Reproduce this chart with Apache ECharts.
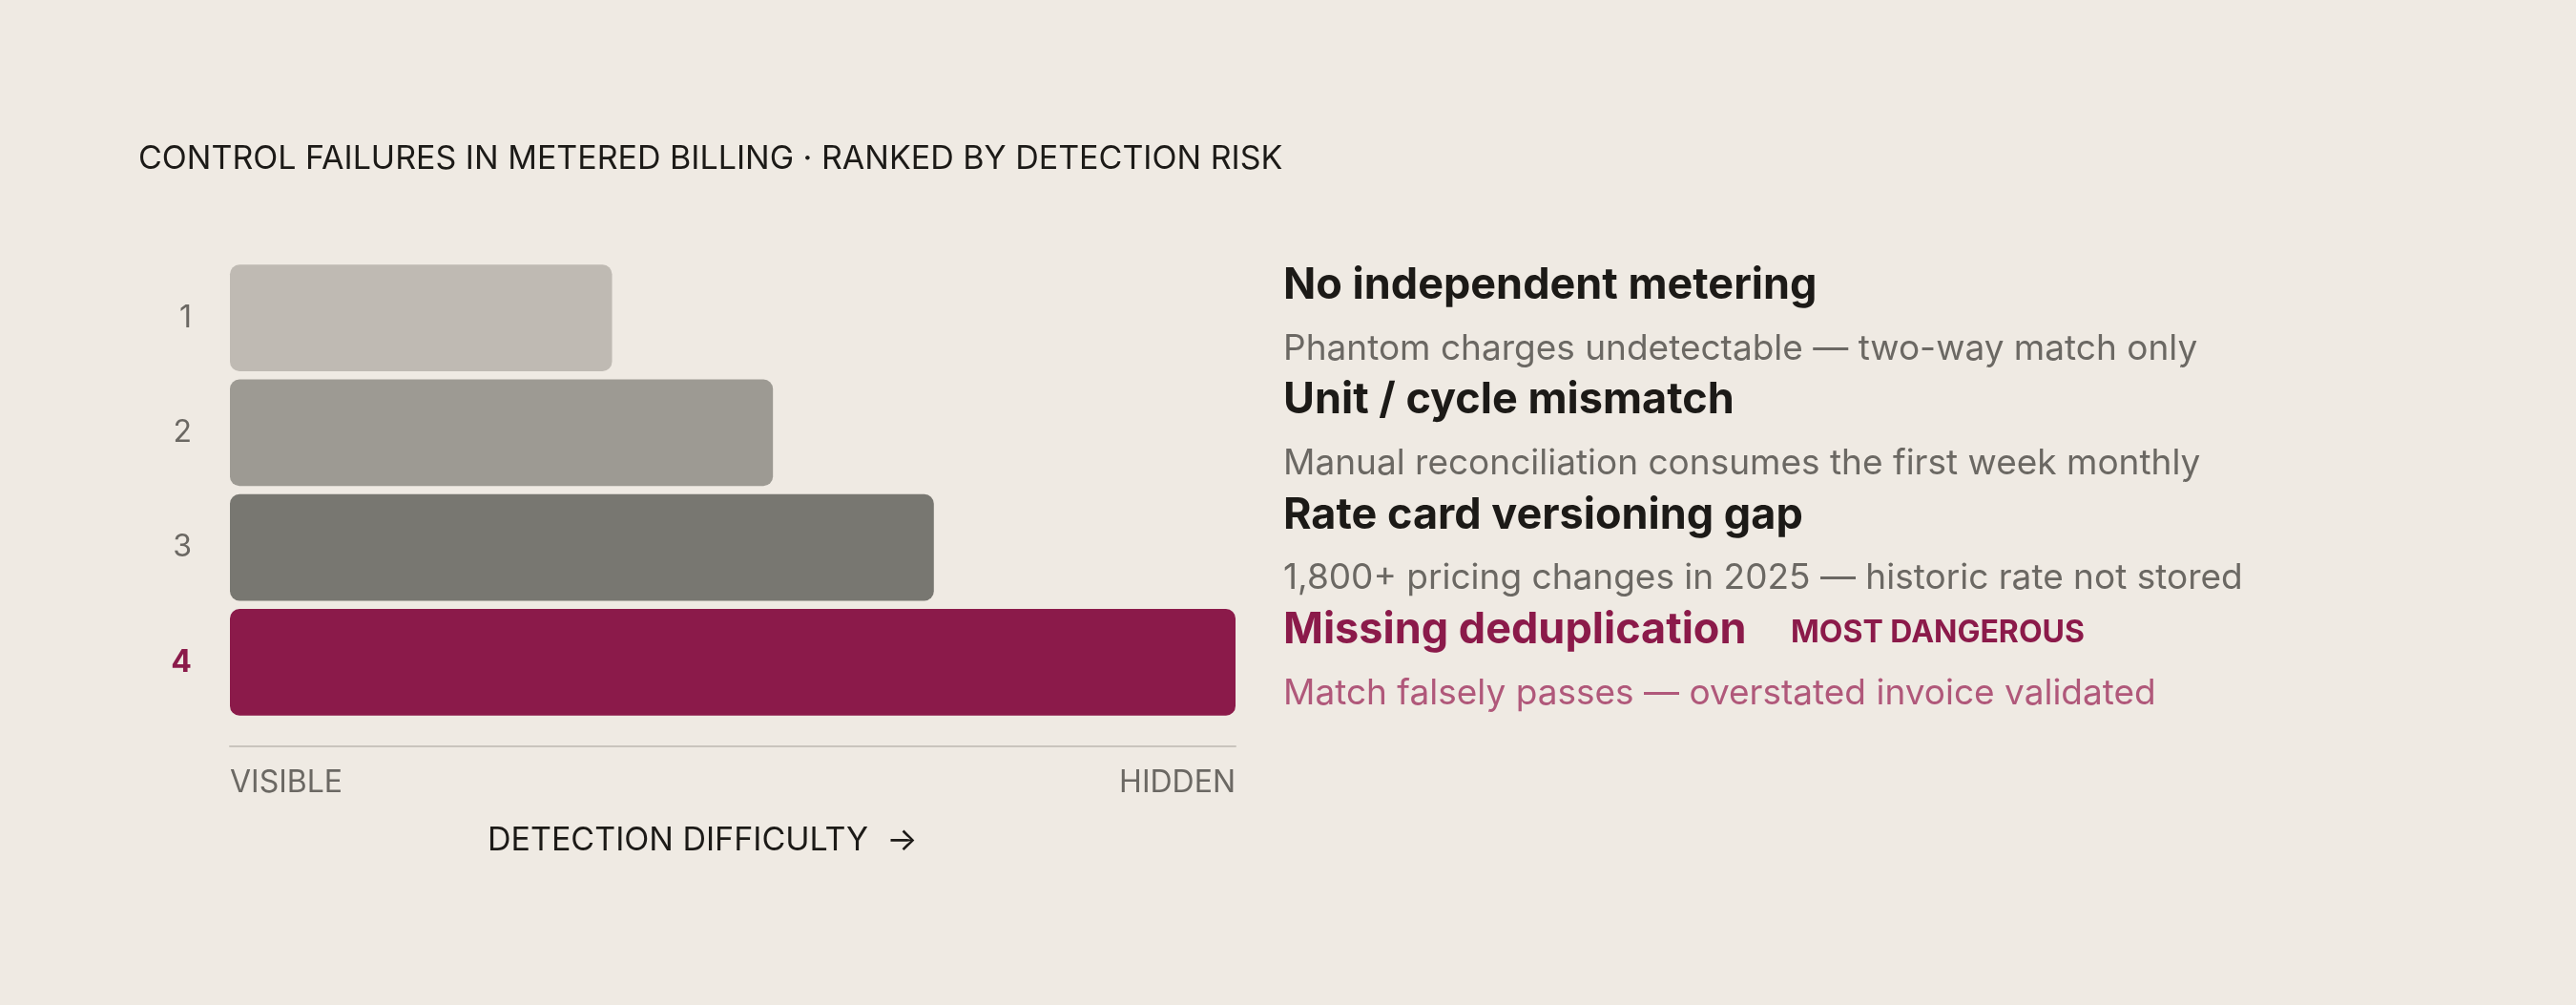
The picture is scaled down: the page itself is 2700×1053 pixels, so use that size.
<!DOCTYPE html>
<html><head><meta charset="utf-8">
<script src="https://cdn.jsdelivr.net/npm/echarts@6/dist/echarts.min.js"></script>
<style>html,body{margin:0;background:#efeae3}#c{width:2700px;height:1053px}</style>
</head><body><div id="c"></div>
<script>
var ranks = ['1', '2', '3', '4'];
var difficulty = [38, 54, 70, 100];
var titles = ['No independent metering', 'Unit / cycle mismatch', 'Rate card versioning gap', 'Missing deduplication'];
var notes = ['Phantom charges undetectable — two-way match only',
    'Manual reconciliation consumes the first week monthly',
    '1,800+ pricing changes in 2025 — historic rate not stored',
    'Match falsely passes — overstated invoice validated'];
var colors = ['#bfbab3', '#9d9a93', '#787771', '#8b1a4a'];

var font = 'Inter, "Noto Sans", sans-serif';
var chart = echarts.init(document.getElementById('c'));
chart.setOption({
    backgroundColor: '#efeae3',
    textStyle: { fontFamily: font },
    grid: { left: 241, width: 1054, top: 273, height: 481 },
    xAxis: { type: 'value', min: 0, max: 100, axisLabel: { show: false }, splitLine: { show: false },
        axisLine: { show: true, onZero: false, lineStyle: { color: '#c9c4bd', width: 2 } }, offset: 28 },
    yAxis: { type: 'category', inverse: true, data: ranks, axisLine: { show: false }, axisTick: { show: false },
        axisLabel: { margin: 40, fontSize: 32, color: '#6b6863', fontFamily: font,
            formatter: function (v) { return v === '4' ? '{hi|' + v + '}' : v; },
            rich: { hi: { fontSize: 32, fontWeight: 'bold', color: '#8b1a4a', fontFamily: font } } } },
    series: [{ type: 'bar', barCategoryGap: '7%',
        data: difficulty.map(function (v, i) { return { value: v, itemStyle: { color: colors[i], borderRadius: 10 } }; }) }]
});

var g = [
    { type: 'text', left: 145, top: 150, style: { text: 'CONTROL FAILURES IN METERED BILLING · RANKED BY DETECTION RISK', font: '34px ' + font, fill: '#1c1a17', letterSpacing: 6 } },
    { type: 'text', left: 241, top: 804, style: { text: 'VISIBLE', font: '32px ' + font, fill: '#6b6863' } },
    { type: 'text', right: 2700 - 1295, top: 804, style: { text: 'HIDDEN', font: '32px ' + font, fill: '#6b6863' } },
    { type: 'text', left: 511, top: 864, style: { text: 'DETECTION DIFFICULTY  →', font: '34px ' + font, fill: '#1c1a17', letterSpacing: 5 } }
];
ranks.forEach(function (r, i) {
    var y = chart.convertToPixel({ yAxisIndex: 0 }, r);
    var hot = i === 3;
    g.push({ type: 'text', left: 1345, top: y - 56, style: { text: titles[i], font: 'bold 45px ' + font, fill: hot ? '#8b1a4a' : '#1c1a17' } });
    g.push({ type: 'text', left: 1345, top: y + 14, style: { text: notes[i], font: '37px ' + font, fill: hot ? '#b0587a' : '#6b6863' } });
    if (hot) g.push({ type: 'text', left: 1877, top: y - 47, style: { text: 'MOST DANGEROUS', font: 'bold 32px ' + font, fill: '#8b1a4a', letterSpacing: 3 } });
});
chart.setOption({ graphic: g });
</script></body></html>
